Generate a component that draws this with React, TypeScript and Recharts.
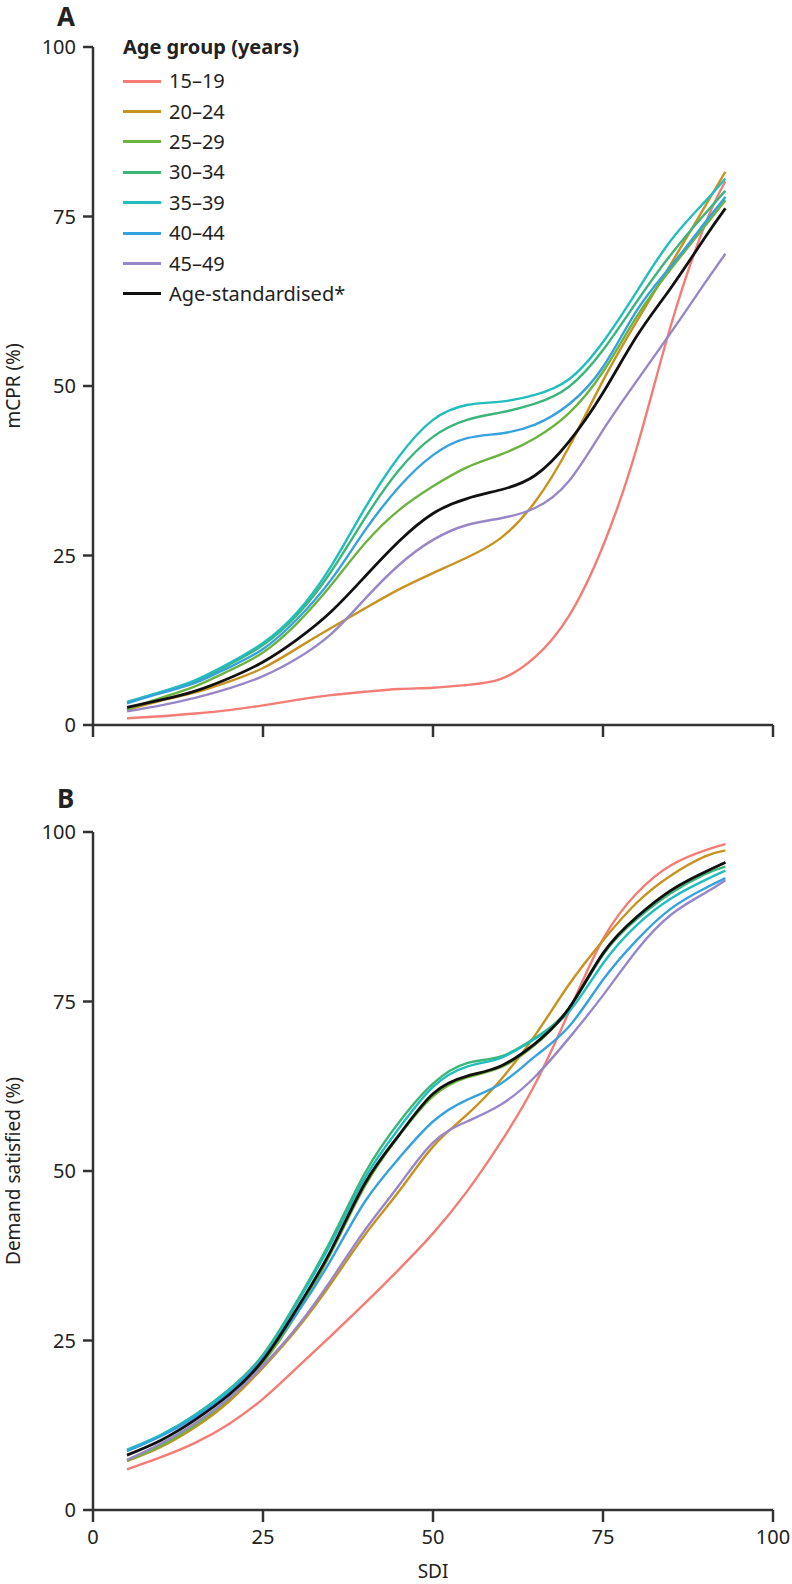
import { Legend, Line, LineChart, XAxis, YAxis } from "recharts";

const SDI = [5, 10, 15, 20, 25, 30, 35, 40, 45, 50, 55, 60, 65, 70, 75, 80, 85, 90, 93];

const AGE_GROUPS = ["15–19", "20–24", "25–29", "30–34", "35–39", "40–44", "45–49", "Age-standardised*"];
const COLORS = ["#F47C74", "#C8921E", "#6CB33F", "#3BB57A", "#22BDBD", "#35A2DE", "#9887C8", "#111111"];

const X_TICKS = [0, 25, 50, 75, 100];
const Y_TICKS = [0, 25, 50, 75, 100];

// Panel A: mCPR (%)
const mcpr15_19 = [1.0, 1.3, 1.7, 2.2, 2.9, 3.7, 4.4, 4.9, 5.3, 5.5, 5.9, 6.8, 10.0, 16.1, 26.4, 41.0, 59.0, 73.8, 80.2];
const mcpr20_24 = [2.2, 3.6, 4.8, 6.4, 8.4, 11.3, 14.3, 17.2, 20.0, 22.4, 24.7, 27.6, 32.9, 41.0, 50.8, 59.6, 68.0, 76.5, 81.6];
const mcpr25_29 = [2.3, 4.0, 5.7, 8.0, 10.7, 15.0, 20.6, 26.8, 31.7, 35.2, 38.0, 39.9, 42.3, 46.0, 52.1, 60.3, 67.3, 73.6, 77.4];
const mcpr30_34 = [3.3, 4.8, 6.4, 8.9, 11.8, 16.2, 22.6, 30.5, 37.6, 42.5, 45.0, 46.1, 47.4, 49.9, 55.3, 62.5, 69.4, 75.4, 78.8];
const mcpr35_39 = [3.4, 4.9, 6.6, 9.1, 12.1, 16.6, 23.4, 32.0, 39.6, 45.0, 47.2, 47.7, 48.7, 51.0, 56.5, 64.0, 71.5, 77.2, 80.6];
const mcpr40_44 = [3.2, 4.7, 6.2, 8.5, 11.2, 15.6, 21.4, 28.7, 35.1, 39.8, 42.3, 43.0, 44.3, 47.3, 52.8, 61.2, 67.7, 74.1, 77.9];
const mcpr45_49 = [2.0, 2.9, 4.0, 5.4, 7.2, 9.8, 13.4, 18.6, 23.6, 27.3, 29.5, 30.5, 32.0, 36.0, 43.5, 50.8, 57.9, 65.2, 69.5];
const mcprStd = [2.6, 3.7, 5.0, 6.9, 9.3, 12.6, 16.7, 21.9, 27.1, 31.2, 33.4, 34.7, 36.8, 41.8, 49.0, 57.4, 64.5, 71.9, 76.2];

// Panel B: demand satisfied (%)
const dem15_19 = [6.0, 7.8, 9.9, 12.7, 16.4, 21.0, 25.7, 30.5, 35.5, 40.8, 47.0, 54.3, 62.8, 73.5, 84.2, 91.0, 95.1, 97.3, 98.2];
const dem20_24 = [7.2, 9.3, 12.2, 16.0, 21.0, 26.7, 33.4, 40.6, 47.0, 53.6, 58.3, 63.5, 70.0, 77.5, 84.0, 89.6, 93.6, 96.4, 97.3];
const dem25_29 = [7.3, 9.5, 12.5, 16.4, 21.7, 29.0, 37.9, 47.8, 55.2, 61.0, 63.8, 65.3, 68.6, 74.0, 82.1, 87.5, 91.4, 94.1, 95.5];
const dem30_34 = [8.7, 11.0, 14.0, 17.8, 22.9, 30.8, 39.8, 49.7, 57.2, 62.9, 65.9, 66.9, 69.6, 74.0, 81.9, 87.2, 91.0, 93.8, 94.9];
const dem35_39 = [8.9, 11.1, 14.0, 17.7, 22.6, 30.5, 39.3, 49.0, 56.3, 62.4, 65.4, 66.7, 69.5, 73.5, 80.6, 86.3, 90.2, 92.9, 94.3];
const dem40_44 = [8.7, 10.9, 13.7, 17.3, 22.4, 29.0, 36.9, 45.5, 51.9, 57.3, 60.5, 62.9, 66.9, 71.3, 78.2, 84.1, 88.7, 91.7, 93.2];
const dem45_49 = [7.4, 9.8, 12.8, 16.5, 21.3, 27.0, 33.9, 41.3, 47.9, 54.2, 57.3, 59.8, 63.9, 69.6, 75.9, 82.6, 87.8, 91.0, 92.9];
const demStd = [8.1, 10.3, 13.3, 17.0, 22.1, 29.7, 38.3, 48.2, 55.3, 61.4, 64.0, 65.5, 68.8, 74.0, 82.1, 87.5, 91.4, 94.1, 95.5];

const FONT = "'Noto Sans', 'Open Sans', sans-serif";
const AXIS = "#333333";

function buildRows(series: number[][]) {
  return SDI.map((x, i) => {
    const row: Record<string, number> = { sdi: x };
    series.forEach((s, k) => {
      row[`s${k}`] = s[i];
    });
    return row;
  });
}

const rowsA = buildRows([mcpr15_19, mcpr20_24, mcpr25_29, mcpr30_34, mcpr35_39, mcpr40_44, mcpr45_49, mcprStd]);
const rowsB = buildRows([dem15_19, dem20_24, dem25_29, dem30_34, dem35_39, dem40_44, dem45_49, demStd]);

function LegendBox({ payload }: any) {
  return (
    <div style={{ fontFamily: FONT, color: "#222" }}>
      <div style={{ fontWeight: 700, fontSize: 20, height: 32, lineHeight: "26px" }}>Age group (years)</div>
      {(payload || []).map((p: any) => (
        <div key={p.value} style={{ display: "flex", alignItems: "center", height: 30.4 }}>
          <span style={{ display: "inline-block", width: 38, borderTop: `3px solid ${p.color}`, marginRight: 8 }} />
          <span style={{ fontSize: 20, lineHeight: "24px" }}>{p.value}</span>
        </div>
      ))}
    </div>
  );
}

function yTitle(text: string) {
  return (props: any) => {
    const { y, height } = props.viewBox;
    const cx = 13;
    const cy = y + height / 2;
    return (
      <text
        x={cx}
        y={cy}
        transform={`rotate(-90, ${cx}, ${cy})`}
        textAnchor="middle"
        dominantBaseline="central"
        fontSize={19}
        fontFamily={FONT}
        fill="#222"
      >
        {text}
      </text>
    );
  };
}

function Panel({
  rows,
  height,
  margin,
  yLabel,
  showXLabels,
  showLegend,
}: {
  rows: Record<string, number>[];
  height: number;
  margin: { top: number; right: number; bottom: number; left: number };
  yLabel: string;
  showXLabels: boolean;
  showLegend: boolean;
}) {
  return (
    <LineChart width={792} height={height} data={rows} margin={margin}>
      <XAxis
        dataKey="sdi"
        type="number"
        domain={[0, 100]}
        ticks={X_TICKS}
        interval={0}
        height={showXLabels ? 68 : 40}
        stroke={AXIS}
        strokeWidth={2.5}
        tickSize={12}
        tickMargin={8}
        tickLine={{ stroke: AXIS, strokeWidth: 2.5 }}
        tick={{ fill: "#222", fontSize: 20, fontFamily: FONT }}
        tickFormatter={(v: number) => (showXLabels ? String(v) : "")}
        label={
          showXLabels
            ? { value: "SDI", position: "insideBottom", offset: 0, fill: "#222", fontSize: 19, fontFamily: FONT }
            : undefined
        }
      />
      <YAxis
        type="number"
        domain={[0, 100]}
        ticks={Y_TICKS}
        interval={0}
        width={45}
        stroke={AXIS}
        strokeWidth={2.5}
        tickSize={10}
        tickMargin={7}
        tickLine={{ stroke: AXIS, strokeWidth: 2.5 }}
        tick={{ fill: "#222", fontSize: 20, fontFamily: FONT }}
        label={yTitle(yLabel)}
      />
      {showLegend && (
        <Legend
          layout="vertical"
          align="center"
          verticalAlign="middle"
          wrapperStyle={{ left: 123, top: 34, width: 300 }}
          content={<LegendBox />}
        />
      )}
      {AGE_GROUPS.map((name, k) => (
        <Line
          key={name}
          name={name}
          dataKey={`s${k}`}
          type="natural"
          stroke={COLORS[k]}
          strokeWidth={k === 7 ? 2.8 : 2.4}
          dot={false}
          activeDot={false}
          isAnimationActive={false}
        />
      ))}
    </LineChart>
  );
}

export default function App() {
  return (
    <div style={{ position: "absolute", left: 0, top: 0, width: 792, height: 1584, background: "#fff" }}>
      <div style={{ position: "absolute", left: 0, top: 0 }}>
        <Panel
          rows={rowsA}
          height={790}
          margin={{ top: 47, right: 19, bottom: 25, left: 48 }}
          yLabel="mCPR (%)"
          showXLabels={false}
          showLegend={true}
        />
      </div>
      <div style={{ position: "absolute", left: 0, top: 790 }}>
        <Panel
          rows={rowsB}
          height={794}
          margin={{ top: 42, right: 19, bottom: 6, left: 48 }}
          yLabel="Demand satisfied (%)"
          showXLabels={true}
          showLegend={false}
        />
      </div>
      <div style={{ position: "absolute", left: 57, top: 2, fontFamily: FONT, fontWeight: 700, fontSize: 26, lineHeight: 1.1, color: "#222" }}>
        A
      </div>
      <div style={{ position: "absolute", left: 57, top: 784, fontFamily: FONT, fontWeight: 700, fontSize: 26, lineHeight: 1.1, color: "#222" }}>
        B
      </div>
    </div>
  );
}
